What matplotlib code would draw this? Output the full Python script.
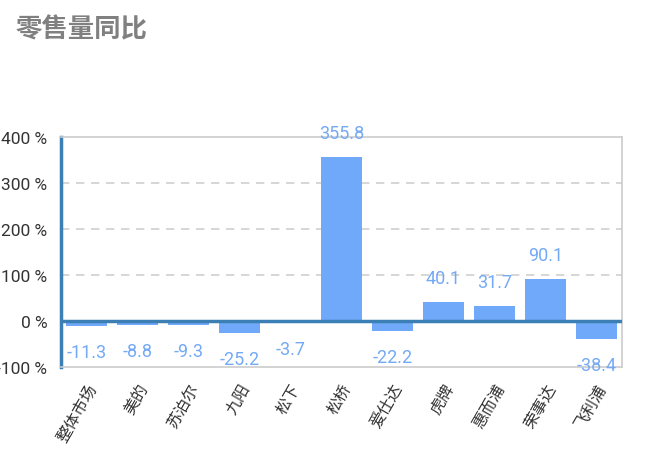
import matplotlib.pyplot as plt

plt.rcParams['font.family'] = ['Roboto', 'Noto Sans CJK SC', 'DejaVu Sans']

# Datos del gráfico
marcas = ["整体市场", "美的", "苏泊尔", "九阳", "松下", "松桥", "爱仕达", "虎牌", "惠而浦", "荣事达", "飞利浦"]
yoy = [-11.3, -8.8, -9.3, -25.2, -3.7, 355.8, -22.2, 40.1, 31.7, 90.1, -38.4]
yticks = [-100, 0, 100, 200, 300, 400]

color_barra = "#70a8fa"
color_eje = "#3c7fb4"

fig = plt.figure(figsize=(6.5, 4.52), dpi=100)
ax = fig.add_axes([0.094, 0.186, 0.863, 0.509])

x = range(len(marcas))
ax.bar(x, yoy, width=0.8, color=color_barra, zorder=2)

# Etiquetas de valores
for i, v in zip(x, yoy):
    off = 24 if v >= 0 else -26
    ax.annotate(f"{v:.1f}", (i, v), xytext=(0, off), textcoords="offset pixels",
                ha="center", va="center", fontsize=13, color="#74a9f6")

ax.set_xlim(-0.5, len(marcas) - 0.5)
ax.set_ylim(-100, 400)
ax.set_yticks(yticks)
ax.set_yticklabels([f"{t} %" for t in yticks], fontsize=12.5, color="#333333")
ax.tick_params(axis="y", length=0, pad=10)

ax.set_xticks(list(x))
ax.set_xticklabels(marcas, rotation=60, ha="right", rotation_mode="anchor",
                   fontsize=11.5, color="#333333")
ax.tick_params(axis="x", length=0, pad=10)

# Cuadrícula y ejes
for t in [100, 200, 300]:
    ax.axhline(t, color="#d0d0d0", linestyle=(0, (5, 4)), linewidth=1.2, zorder=1)
ax.axhline(0, color=color_eje, linewidth=2.5, zorder=3)

for lado in ["top", "right", "bottom"]:
    ax.spines[lado].set_color("#cccccc")
    ax.spines[lado].set_linewidth(1.2)
ax.spines["left"].set_color(color_eje)
ax.spines["left"].set_linewidth(2.5)

fig.text(0.024, 0.934, "零售量同比", fontsize=19, fontweight="bold", color="#808080",
         ha="left", va="center")

fig.savefig("out.png", dpi=100)
